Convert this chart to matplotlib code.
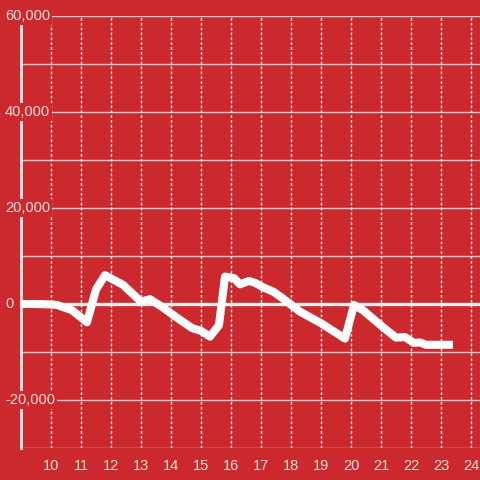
import matplotlib
matplotlib.use("Agg")
import matplotlib.pyplot as plt
import matplotlib.transforms as mtransforms

# series (x = hour, y = value)
hours = [9.0, 9.5, 10.0, 10.2, 10.7, 11.2, 11.5, 11.8, 12.1, 12.4, 13.0, 13.3,
         13.7, 14.3, 14.7, 15.0, 15.3, 15.6, 15.8, 16.1, 16.3, 16.6, 16.8, 17.1,
         17.4, 17.7, 18.3, 19.0, 19.8, 20.1, 20.4, 21.1, 21.5, 21.8, 22.1, 22.3,
         22.5, 23.4]
values = [0, 0, -100, -200, -1300, -3800, 3000, 6000, 5000, 4000, 500, 1000,
          -600, -3300, -5000, -5600, -6800, -4400, 5700, 5400, 4100, 4800, 4400, 3400,
          2600, 1300, -1600, -4000, -7200, -200, -1300, -5000, -7000, -6900, -8100, -8000,
          -8500, -8500]

x_ticks = list(range(10, 25))
y_ticks = [60000, 40000, 20000, 0, -20000]
y_labels = ["60,000", "40,000", "20,000", "0", "-20,000"]
y_grid = [60000, 50000, 40000, 30000, 20000, 10000, -10000, -20000, -30000]

bg = "#cc292e"
txt = "#f3dede"

fig = plt.figure(figsize=(4.8, 4.8), dpi=100, facecolor=bg)
ax = fig.add_axes([21 / 480, 32 / 480, 459 / 480, 432 / 480])
ax.set_facecolor(bg)
ax.set_xlim(9, 24.3)
ax.set_ylim(-30000, 60000)

for g in y_grid:
    ax.axhline(g, color="#d6d0d0", lw=1, zorder=1)
for t in x_ticks:
    ax.axvline(t, color="#f4eaea", lw=1, ls=(0, (2, 1.5)), zorder=1)
ax.axhline(0, color="#eeeeee", lw=2.4, zorder=2)

ax.plot(hours, values, color="white", lw=5.8, solid_joinstyle="round",
        solid_capstyle="butt", zorder=3)

for s in ["top", "right", "bottom"]:
    ax.spines[s].set_visible(False)
ax.spines["left"].set_color("#eeeeee")
ax.spines["left"].set_linewidth(2)

ax.set_xticks(x_ticks)
ax.set_xticklabels([str(t) for t in x_ticks], fontfamily="Liberation Sans")
ax.tick_params(axis="x", length=0, pad=8, labelsize=10.5, labelcolor=txt)
ax.set_yticks([])

# y labels sit inside the plot on a red box that hides the axis line
trans = mtransforms.blended_transform_factory(fig.transFigure, ax.transData)
for v, lab in zip(y_ticks, y_labels):
    ax.text(5 / 480, v, lab, transform=trans, ha="left", va="center",
            fontsize=10.5, color=txt, fontfamily="Liberation Sans", zorder=5,
            clip_on=False,
            bbox=dict(facecolor=bg, edgecolor="none", pad=1.5))

fig.savefig("out.png", dpi=100, facecolor=bg)
